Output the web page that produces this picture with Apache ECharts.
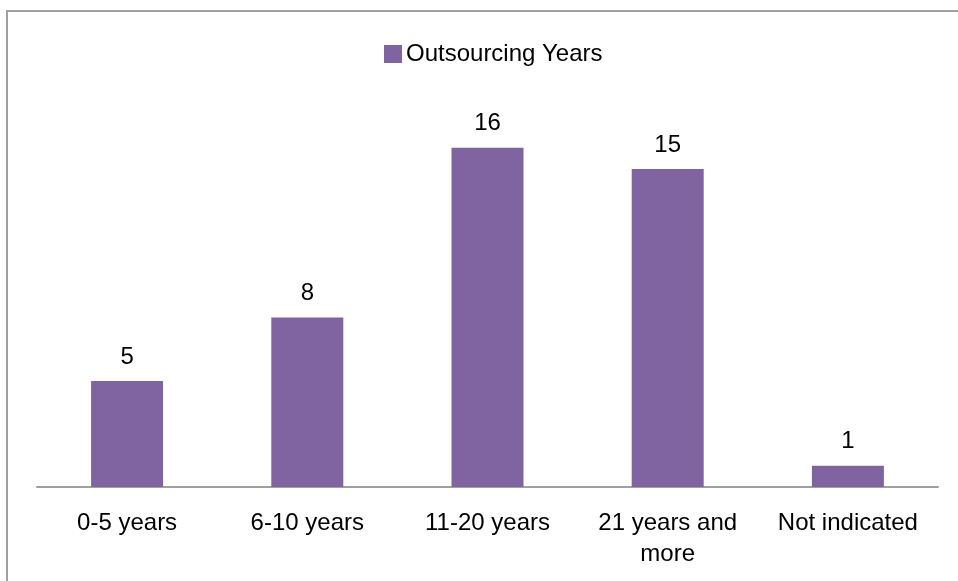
<!DOCTYPE html>
<html>
<head>
<meta charset="utf-8">
<script src="https://cdn.jsdelivr.net/npm/echarts@6/dist/echarts.min.js"></script>
<style>
  html, body { margin: 0; padding: 0; background: #ffffff; }
  #chart { width: 958px; height: 581px; }
</style>
</head>
<body>
<div id="chart"></div>
<script>
// Outsourcing experience of respondents, grouped by years
const categories = ['0-5 years', '6-10 years', '11-20 years', '21 years and\nmore', 'Not indicated'];
const seriesName = 'Outsourcing Years';
const counts = [5, 8, 16, 15, 1];

const FONT = '"Liberation Sans", Arial, sans-serif';
const chart = echarts.init(document.getElementById('chart'), null, { renderer: 'canvas' });

chart.setOption({
  backgroundColor: '#ffffff',
  animation: false,
  graphic: [{
    type: 'rect',
    shape: { x: 7, y: 11, width: 1000, height: 700 },
    style: { fill: 'none', stroke: '#a0a0a0', lineWidth: 2 },
    silent: true
  }],
  legend: {
    left: 379,
    top: 37,
    itemWidth: 18,
    itemHeight: 18,
    itemGap: 10,
    icon: 'rect',
    textStyle: { fontFamily: FONT, fontSize: 24, color: '#000000', padding: [0, 0, 0, -1] },
    data: [seriesName]
  },
  grid: { left: 37, right: 20, top: 63, bottom: 94, containLabel: false },
  xAxis: {
    type: 'category',
    data: categories,
    axisLine: { lineStyle: { color: '#a0a0a0', width: 2 } },
    axisTick: { show: false },
    axisLabel: {
      fontFamily: FONT,
      fontSize: 24,
      color: '#000000',
      margin: 21,
      lineHeight: 31,
      interval: 0
    }
  },
  yAxis: {
    type: 'value',
    min: 0,
    max: 20,
    show: false,
    splitLine: { show: false }
  },
  series: [{
    name: seriesName,
    type: 'bar',
    data: counts,
    barWidth: 72,
    itemStyle: { color: '#8064a2' },
    label: {
      show: true,
      position: 'top',
      distance: 12,
      fontFamily: FONT,
      fontSize: 24,
      color: '#000000'
    }
  }]
});
</script>
</body>
</html>
